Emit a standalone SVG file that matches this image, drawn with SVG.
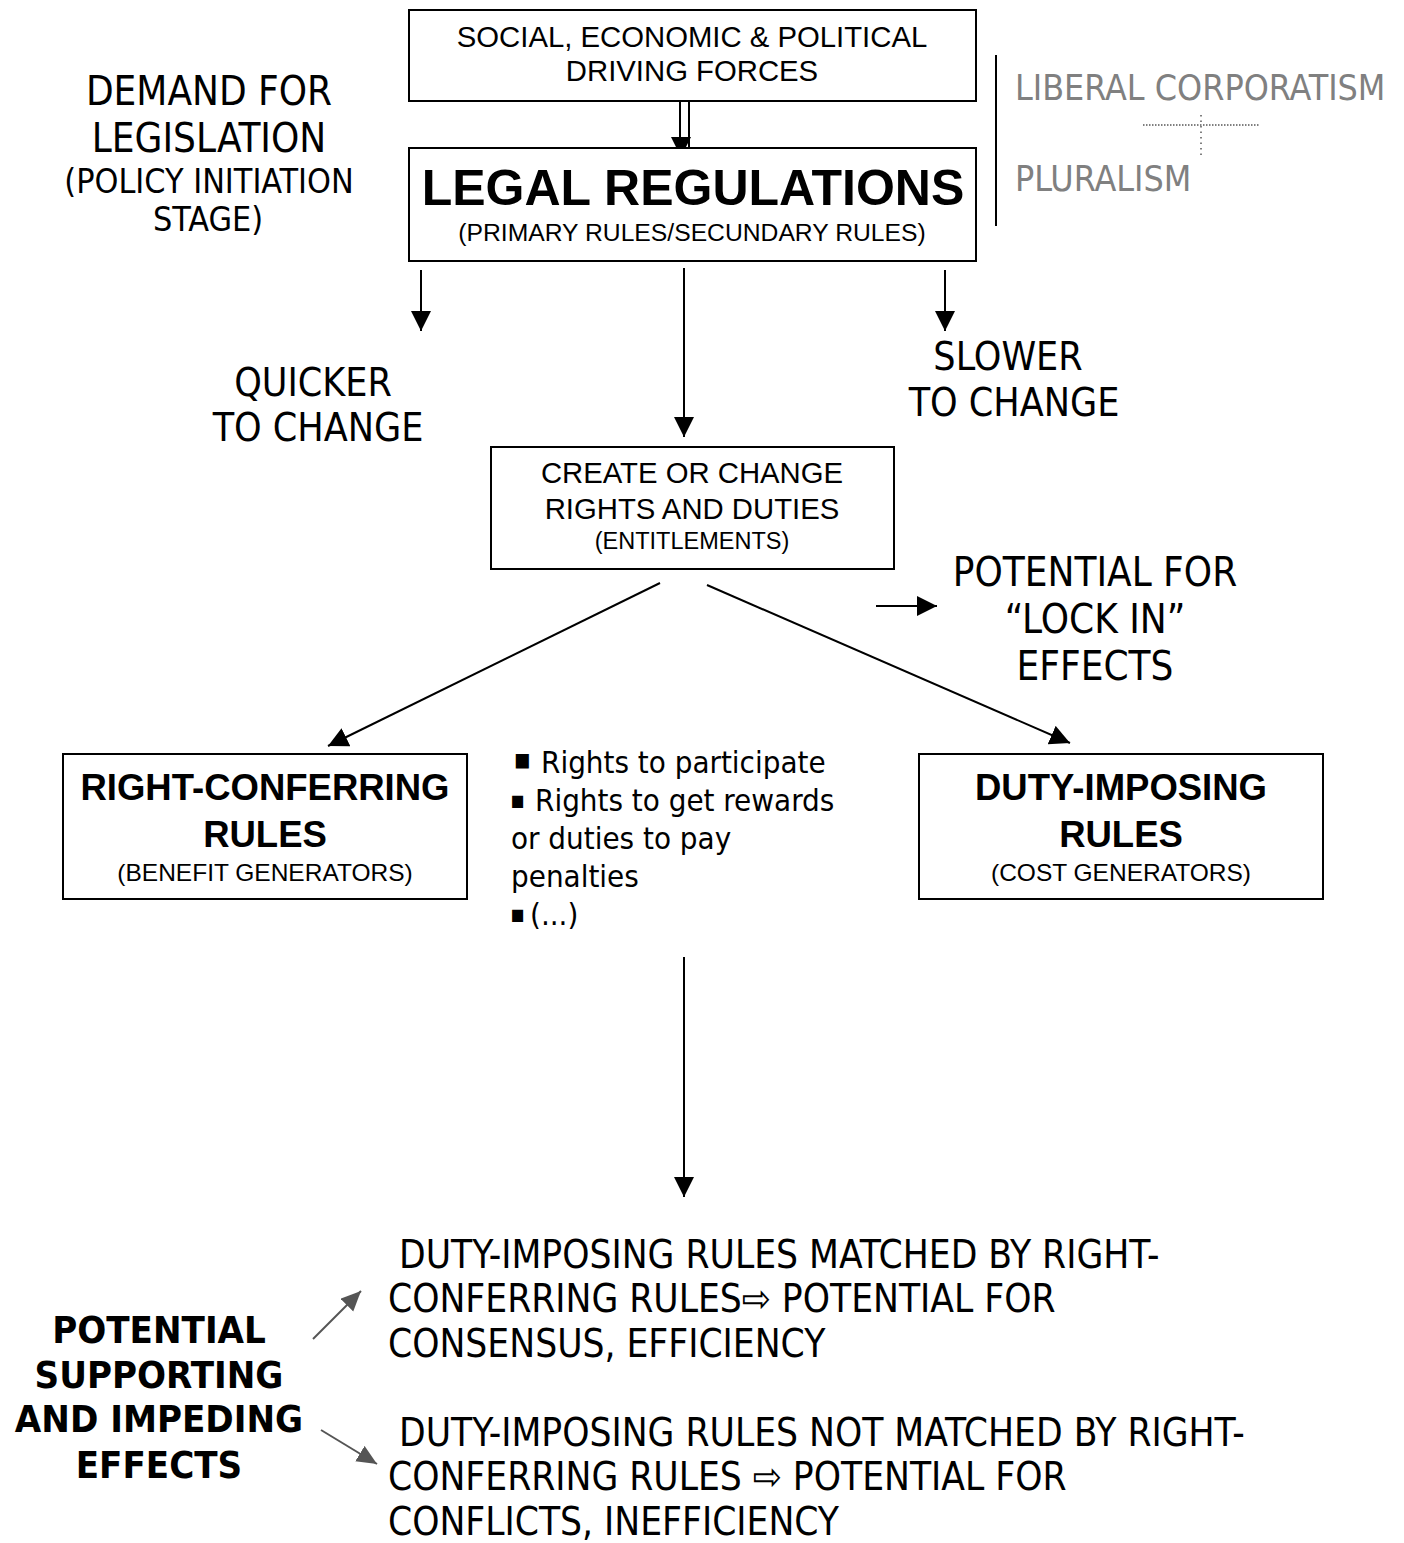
<svg xmlns="http://www.w3.org/2000/svg" width="1404" height="1543" viewBox="0 0 1404 1543">
<defs>
<style>
.box{fill:#fff;stroke:#000;stroke-width:2}
.ar{font-family:"Liberation Sans",Arial,sans-serif;fill:#000;text-anchor:middle}
.arb{font-family:"Liberation Sans",Arial,sans-serif;font-weight:bold;fill:#000;text-anchor:middle}
.th{font-family:"DejaVu Sans Condensed","DejaVu Sans",sans-serif;font-stretch:condensed;fill:#000}
.thm{font-family:"DejaVu Sans Condensed","DejaVu Sans",sans-serif;font-stretch:condensed;fill:#000;text-anchor:middle}
.thb{font-family:"DejaVu Sans Condensed","DejaVu Sans",sans-serif;font-stretch:condensed;font-weight:bold;fill:#000;text-anchor:middle}
.gray{fill:#808080}
.ln{stroke:#000;stroke-width:2;fill:none}
.gl{stroke:#555;stroke-width:2;fill:none}
</style>
<marker id="ah" markerUnits="userSpaceOnUse" markerWidth="22" markerHeight="22" refX="20" refY="10" orient="auto">
<path d="M0,0 L20,10 L0,20 z" fill="#000"/>
</marker>
<marker id="gah" markerUnits="userSpaceOnUse" markerWidth="22" markerHeight="22" refX="20" refY="9" orient="auto">
<path d="M0,0 L20,9 L0,18 z" fill="#555"/>
</marker>
</defs>

<g id="connectors">
<line class="ln" x1="680" y1="101" x2="680" y2="140"/>
<line class="ln" x1="689" y1="101" x2="689" y2="148"/>
<path d="M671,137 L691,137 L681,157 z" fill="#000"/>
<line class="ln" x1="421" y1="270" x2="421" y2="331" marker-end="url(#ah)"/>
<line class="ln" x1="684" y1="268" x2="684" y2="437" marker-end="url(#ah)"/>
<line class="ln" x1="945" y1="270" x2="945" y2="331" marker-end="url(#ah)"/>
<line class="ln" x1="876" y1="606" x2="937" y2="606" marker-end="url(#ah)"/>
<line class="ln" x1="660" y1="583" x2="328" y2="746" marker-end="url(#ah)"/>
<line class="ln" x1="707" y1="585" x2="1070" y2="743" marker-end="url(#ah)"/>
<line class="ln" x1="684" y1="957" x2="684" y2="1197" marker-end="url(#ah)"/>
<line class="gl" x1="313" y1="1339" x2="361" y2="1291" marker-end="url(#gah)"/>
<line class="gl" x1="321" y1="1430" x2="377" y2="1464" marker-end="url(#gah)"/>
<line class="ln" x1="996" y1="55" x2="996" y2="226"/>
<line x1="1143" y1="125" x2="1260" y2="125" stroke="#000" stroke-width="1" stroke-dasharray="1.5,1.5"/>
<line x1="1201" y1="115" x2="1201" y2="157" stroke="#000" stroke-width="1" stroke-dasharray="1.5,4"/>
</g>

<g id="driving-forces">
<rect class="box" x="409" y="10" width="567" height="91"/>
<text class="ar" x="692" y="47" font-size="29.3">SOCIAL, ECONOMIC &amp; POLITICAL</text>
<text class="ar" x="692" y="81" font-size="29.3">DRIVING FORCES</text>
</g>

<g id="legal-regulations">
<rect class="box" x="409" y="148" width="567" height="113"/>
<text class="arb" x="693" y="205" font-size="50">LEGAL REGULATIONS</text>
<text class="ar" x="692" y="241" font-size="24.7">(PRIMARY RULES/SECUNDARY RULES)</text>
</g>

<g id="demand">
<text class="thm" x="209" y="105" font-size="40">DEMAND FOR</text>
<text class="thm" x="209" y="152" font-size="40">LEGISLATION</text>
<text class="thm" x="209" y="193" font-size="33.8">(POLICY INITIATION</text>
<text class="thm" x="208" y="231" font-size="33.8">STAGE)</text>
</g>

<g id="corporatism">
<text class="th gray" x="1015" y="100" font-size="35.5">LIBERAL CORPORATISM</text>
<text class="th gray" x="1015" y="191" font-size="35.5">PLURALISM</text>
</g>

<g id="quicker">
<text class="thm" x="313" y="396" font-size="39">QUICKER</text>
<text class="thm" x="318" y="441" font-size="39">TO CHANGE</text>
</g>

<g id="slower">
<text class="thm" x="1008" y="370" font-size="39">SLOWER</text>
<text class="thm" x="1014" y="416" font-size="39">TO CHANGE</text>
</g>

<g id="create-change">
<rect class="box" x="491" y="447" width="403" height="122"/>
<text class="ar" x="692" y="483" font-size="29.3">CREATE OR CHANGE</text>
<text class="ar" x="692" y="519" font-size="29.3">RIGHTS AND DUTIES</text>
<text class="ar" x="692" y="549" font-size="23.5">(ENTITLEMENTS)</text>
</g>

<g id="lock-in">
<text class="thm" x="1095" y="586" font-size="40">POTENTIAL FOR</text>
<text class="thm" x="1095" y="633" font-size="40">“LOCK IN”</text>
<text class="thm" x="1095" y="680" font-size="40">EFFECTS</text>
</g>

<g id="right-conferring">
<rect class="box" x="63" y="754" width="404" height="145"/>
<text class="arb" x="265" y="800" font-size="36.5">RIGHT-CONFERRING</text>
<text class="arb" x="265" y="847" font-size="36.5">RULES</text>
<text class="ar" x="265" y="881" font-size="24.5">(BENEFIT GENERATORS)</text>
</g>

<g id="duty-imposing">
<rect class="box" x="919" y="754" width="404" height="145"/>
<text class="arb" x="1121" y="800" font-size="36.5">DUTY-IMPOSING</text>
<text class="arb" x="1121" y="847" font-size="36.5">RULES</text>
<text class="ar" x="1121" y="881" font-size="24.5">(COST GENERATORS)</text>
</g>

<g id="rights-list">
<text class="th" y="773" font-size="31"><tspan x="514" dy="-7" font-size="19">■</tspan><tspan x="541" dy="7">Rights to participate</tspan></text>
<text class="th" y="811" font-size="31"><tspan x="511" dy="-5" font-size="16">■</tspan><tspan x="535" dy="5">Rights to get rewards</tspan></text>
<text class="th" x="511" y="849" font-size="31">or duties to pay</text>
<text class="th" x="511" y="887" font-size="31">penalties</text>
<text class="th" y="925" font-size="31"><tspan x="511" dy="-5" font-size="16">■</tspan><tspan x="530" dy="5">(...)</tspan></text>
</g>

<g id="effects">
<text class="thb" x="159" y="1343" font-size="38">POTENTIAL</text>
<text class="thb" x="159" y="1388" font-size="38">SUPPORTING</text>
<text class="thb" x="159" y="1432" font-size="38">AND IMPEDING</text>
<text class="thb" x="159" y="1478" font-size="38">EFFECTS</text>
</g>

<g id="matched">
<text class="th" x="388" y="1268" font-size="38.5" xml:space="preserve"> DUTY-IMPOSING RULES MATCHED BY RIGHT-</text>
<text class="th" x="388" y="1312" font-size="38.5">CONFERRING RULES⇨ POTENTIAL FOR</text>
<text class="th" x="388" y="1357" font-size="38.5">CONSENSUS, EFFICIENCY</text>
</g>

<g id="not-matched">
<text class="th" x="388" y="1446" font-size="38.5" xml:space="preserve"> DUTY-IMPOSING RULES NOT MATCHED BY RIGHT-</text>
<text class="th" x="388" y="1490" font-size="38.5">CONFERRING RULES ⇨ POTENTIAL FOR</text>
<text class="th" x="388" y="1535" font-size="38.5">CONFLICTS, INEFFICIENCY</text>
</g>
</svg>
